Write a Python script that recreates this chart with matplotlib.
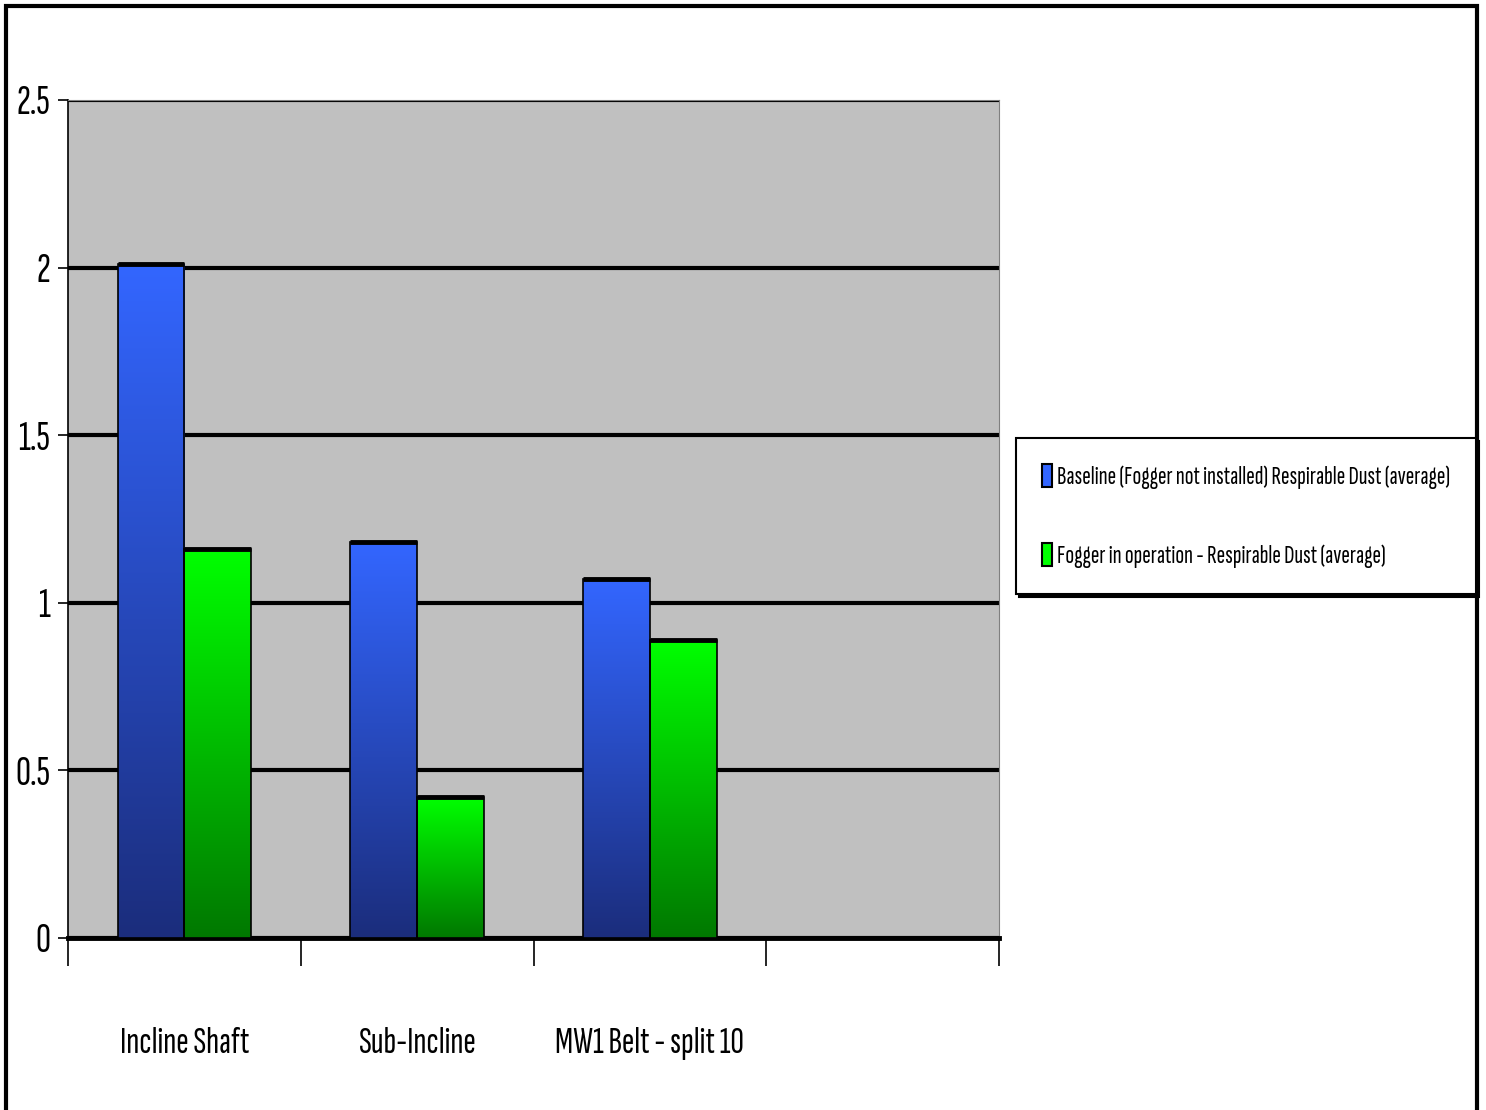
import numpy as np
import matplotlib.pyplot as plt
from matplotlib.colors import LinearSegmentedColormap
from matplotlib.patches import Rectangle

plt.rcParams['font.family'] = ['Sofia Sans Extra Condensed', 'DejaVu Sans']

categories = ['Incline Shaft', 'Sub-Incline', 'MW1 Belt - split 10', '']
baseline = [2.01, 1.18, 1.07]
fogger = [1.16, 0.42, 0.89]
series_names = ['Baseline (Fogger not installed) Respirable Dust (average)',
                'Fogger in operation - Respirable Dust (average)']
yticks = [0, 0.5, 1, 1.5, 2, 2.5]

blue_map = LinearSegmentedColormap.from_list('b', ['#1b2d7c', '#3366ff'])
green_map = LinearSegmentedColormap.from_list('g', ['#007800', '#00ff00'])

fig = plt.figure(figsize=(14.86, 11.10), dpi=100)
ax = fig.add_axes([0.0458, 0.155, 0.6265, 0.755])
ax.set_facecolor('#c0c0c0')

x = np.arange(len(baseline))
w = 0.2875
b1 = ax.bar(x - w / 2, baseline, w, color='#3366ff', edgecolor='black', linewidth=1.2, zorder=3)
b2 = ax.bar(x + w / 2, fogger, w, color='#00ff00', edgecolor='black', linewidth=1.2, zorder=3)

# vertical gradient inside each bar
grad = np.linspace(0, 1, 256).reshape(-1, 1)
for bars, cmap in ((b1, blue_map), (b2, green_map)):
    for p in bars:
        x0, y0 = p.get_x(), p.get_y()
        im = ax.imshow(grad, cmap=cmap, origin='lower', aspect='auto', zorder=3.5,
                       extent=[x0, x0 + p.get_width(), y0, y0 + p.get_height()])
        im.set_clip_path(p)
        ax.hlines(y0 + p.get_height(), x0, x0 + p.get_width(), color='black',
                  linewidth=3.5, zorder=4)
    for p in bars:
        p.set_facecolor('none')
        p.set_zorder(4)

ax.set_xlim(-0.5, len(categories) - 0.5)
ax.set_ylim(0, 2.5)
ax.set_yticks(yticks)
ax.set_yticklabels([f'{v:g}' for v in yticks], fontsize=30)
ax.yaxis.grid(True, color='black', linewidth=3, zorder=1)
ax.set_axisbelow(True)

# category boundaries carry the tick marks, labels sit at centers
ax.set_xticks(np.arange(len(categories) + 1) - 0.5)
ax.set_xticklabels([])
ax.tick_params(axis='x', which='major', length=20, width=1.2, color='black')
ax.set_xticks(np.arange(len(categories)), minor=True)
ax.set_xticklabels(categories, minor=True, fontsize=27)
ax.tick_params(axis='x', which='minor', length=0, pad=64)
ax.tick_params(axis='y', length=7, width=1.2, pad=6)

ax.spines['bottom'].set_linewidth(3.5)
ax.spines['left'].set_linewidth(1.2)
ax.spines['top'].set_color('#808080')
ax.spines['right'].set_color('#808080')

handles = [Rectangle((0, 0), 1, 1, facecolor='#3366ff', edgecolor='black', linewidth=1.5),
           Rectangle((0, 0), 1, 1, facecolor='#00ff00', edgecolor='black', linewidth=1.5)]
leg = fig.legend(handles, series_names, loc='center left', bbox_to_anchor=(0.6837, 0.535),
                 fontsize=18.5, frameon=True, fancybox=False, borderpad=1.0,
                 labelspacing=2.1, handlelength=0.4, handleheight=1.0, handletextpad=0.2,
                 borderaxespad=0, shadow={'color': 'black', 'alpha': 1})
leg.get_frame().set_edgecolor('black')
leg.get_frame().set_linewidth(1.5)

# outer chart border
fig.add_artist(Rectangle((0.004, -0.01), 0.99, 1.005, transform=fig.transFigure,
                         fill=False, edgecolor='black', linewidth=3))

fig.savefig('out.png', dpi=100)
